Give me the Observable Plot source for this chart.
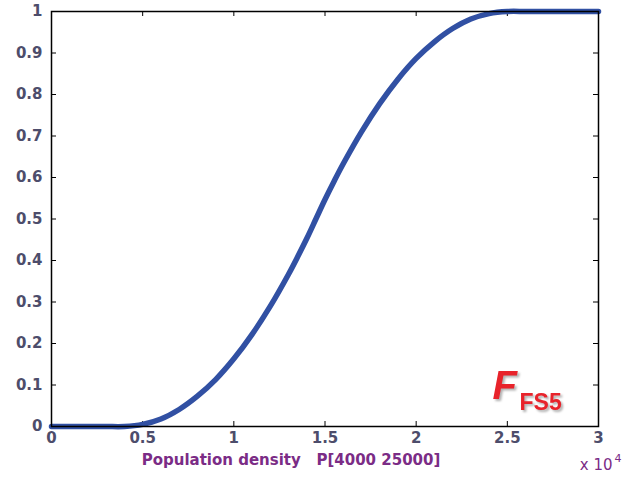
<!DOCTYPE html>
<html>
<head>
<meta charset="utf-8">
<script src="https://cdn.jsdelivr.net/npm/d3@7"></script>
<script src="https://cdn.jsdelivr.net/npm/@observablehq/plot@0.6"></script>
<style>
  html, body { margin: 0; padding: 0; background: #fff; }
  #chart svg { display: block; }
</style>
</head>
<body>
<div id="chart"></div>
<script>
// Population density (x) and membership value (y)
const density = [0, 1000, 2000, 3000, 4000, 5000, 6000, 7000, 8000, 9000, 10000,
  11000, 12000, 13000, 13500, 14000, 14500, 15000, 15500, 16000, 17000, 18000, 19000, 20000,
  21000, 22000, 23000, 24000, 25000, 26000, 27000, 28000, 29000, 30000];
const membership = [0, 0, 0, 0, 0, 0.005, 0.018, 0.041, 0.073, 0.113, 0.163,
  0.222, 0.290, 0.367, 0.409, 0.453, 0.5, 0.547, 0.591, 0.633, 0.710, 0.778, 0.837, 0.887,
  0.927, 0.959, 0.982, 0.995, 1, 1, 1, 1, 1, 1];

const xTicks = [0, 5000, 10000, 15000, 20000, 25000, 30000];
const xTickLabels = ["0", "0.5", "1", "1.5", "2", "2.5", "3"];
const yTicks = [0, 0.1, 0.2, 0.3, 0.4, 0.5, 0.6, 0.7, 0.8, 0.9, 1];
const yTickLabels = ["0", "0.1", "0.2", "0.3", "0.4", "0.5", "0.6", "0.7", "0.8", "0.9", "1"];

const xLabel = "Population density   P[4000 25000]";
const expLabel = "x 10";
const expPower = "4";
const tagMain = "F";
const tagSub = "FS5";

const data = density.map((x, i) => ({x, y: membership[i]}));

const W = 633, H = 481;
const mL = 51, mR = 35, mT = 11, mB = 55;
const frameW = W - mL - mR, frameH = H - mT - mB;
const xMax = 30000, yMax = 1;
const tickPx = 5;
const xTickLen = tickPx / frameW * xMax;   // inward tick length in x units
const yTickLen = tickPx / frameH * yMax;   // inward tick length in y units
const tickColor = "#4d4d6b";
const purple = "#7b2c86";
const tagRed = "#e8232b";
const shadow = "drop-shadow(2px 2px 1px rgba(0,0,0,0.3))";

const chart = Plot.plot({
  width: W,
  height: H,
  marginLeft: mL,
  marginRight: mR,
  marginTop: mT,
  marginBottom: mB,
  style: {fontFamily: "DejaVu Sans, sans-serif", background: "#fff"},
  x: {domain: [0, xMax]},
  y: {domain: [0, yMax]},
  marks: [
    // inward ticks on all four sides
    Plot.ruleX(xTicks, {x: d => d, y1: 0, y2: yTickLen, stroke: "black", strokeWidth: 1}),
    Plot.ruleX(xTicks, {x: d => d, y1: yMax - yTickLen, y2: yMax, stroke: "black", strokeWidth: 1}),
    Plot.ruleY(yTicks, {y: d => d, x1: 0, x2: xTickLen, stroke: "black", strokeWidth: 1}),
    Plot.ruleY(yTicks, {y: d => d, x1: xMax - xTickLen, x2: xMax, stroke: "black", strokeWidth: 1}),
    Plot.axisX({
      ticks: xTicks,
      tickFormat: d => xTickLabels[xTicks.indexOf(d)],
      tickSize: 0, tickPadding: 6, fontSize: 15, fontWeight: "bold",
      color: tickColor, label: null
    }),
    Plot.axisY({
      ticks: yTicks,
      tickFormat: d => yTickLabels[yTicks.findIndex(t => Math.abs(t - d) < 1e-9)],
      tickSize: 0, tickPadding: 9, fontSize: 15, fontWeight: "bold",
      color: tickColor, label: null
    }),
    Plot.line(data, {x: "x", y: "y", stroke: "#3150a3", strokeWidth: 5.5, curve: "catmull-rom"}),
    Plot.frame({stroke: "black", strokeWidth: 1.5}),
    // axis label
    Plot.text([xLabel], {text: d => d, frameAnchor: "bottom", dx: -34, dy: 38,
      fill: purple, fontSize: 15, fontWeight: "bold", fontFamily: "DejaVu Sans"}),
    // exponent
    Plot.text([expLabel], {text: d => d, frameAnchor: "bottom-right", textAnchor: "end", dx: 14, dy: 43,
      fill: purple, fontSize: 15}),
    Plot.text([expPower], {text: d => d, frameAnchor: "bottom-right", textAnchor: "start", dx: 16, dy: 35,
      fill: purple, fontSize: 11}),
    // tag
    Plot.text([tagMain], {text: d => d, frameAnchor: "bottom-right", textAnchor: "start", dx: -106, dy: -28,
      fill: tagRed, fontSize: 40, fontWeight: "bold", fontStyle: "italic", fontFamily: "Liberation Sans",
      imageFilter: shadow}),
    Plot.text([tagSub], {text: d => d, frameAnchor: "bottom-right", textAnchor: "start", dx: -79, dy: -17,
      fill: tagRed, fontSize: 23, fontWeight: "bold", fontFamily: "Liberation Sans",
      imageFilter: shadow})
  ]
});
document.getElementById("chart").appendChild(chart);
</script>
</body>
</html>
